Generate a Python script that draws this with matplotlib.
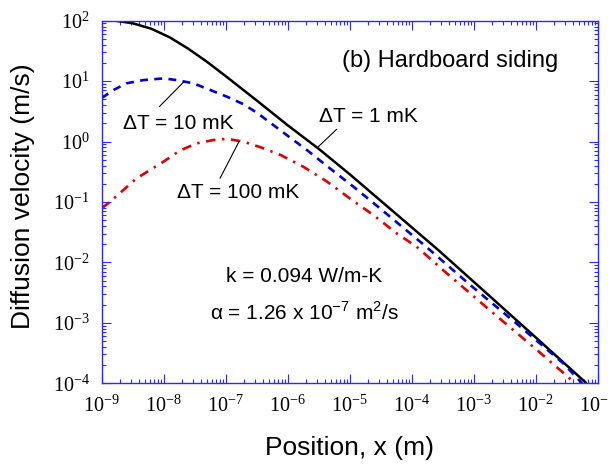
import matplotlib
matplotlib.use("Agg")
import matplotlib.pyplot as plt
from matplotlib.ticker import LogLocator, NullFormatter

plt.rcParams['font.family'] = ['Liberation Sans', 'DejaVu Sans']

# ---- data ----
x_1mK = [1.64e-9, 3.16e-9, 6.31e-9, 1.26e-8, 2.51e-8, 5.01e-8, 1.0e-7, 3.16e-7,
         1.0e-6, 3.16e-6, 1.0e-5, 3.09e-5, 2.69e-4, 1.0e-3, 1.0e-2, 6.61e-2]
v_1mK = [100, 90.6, 73.6, 52.8, 34.2, 20.8, 12.1, 4.79,
         1.86, 0.759, 0.288, 0.107, 0.0160, 4.79e-3, 5.75e-4, 1.0e-4]

x_10mK = [1.0e-9, 1.55e-9, 2.51e-9, 4.68e-9, 1.0e-8, 1.62e-8, 3.02e-8, 5.62e-8,
          1.05e-7, 1.91e-7, 3.16e-7, 8.51e-7, 2.04e-6, 4.79e-6, 1.15e-5, 2.72e-5,
          6.46e-5, 1.62e-4, 8.71e-4, 4.90e-3, 2.79e-2, 5.62e-2]
v_10mK = [5.25, 7.13, 9.20, 10.4, 11.1, 10.4, 9.20, 7.13,
          5.52, 4.17, 3.02, 1.41, 0.724, 0.361, 0.179, 0.0871,
          0.0417, 0.0191, 4.27e-3, 9.77e-4, 2.14e-4, 1.0e-4]

x_100mK = [1.0e-9, 1.36e-9, 2.24e-9, 3.63e-9, 6.03e-9, 1.0e-8, 1.82e-8, 3.39e-8,
           6.31e-8, 1.05e-7, 1.91e-7, 3.55e-7, 7.59e-7, 1.78e-6, 4.27e-6, 1.0e-5,
           2.40e-5, 5.75e-5, 1.20e-4, 3.24e-4, 1.82e-3, 1.05e-2, 4.37e-2]
v_100mK = [0.0785, 0.101, 0.158, 0.245, 0.339, 0.468, 0.708, 0.933,
           1.06, 1.11, 1.0, 0.813, 0.603, 0.384, 0.219, 0.115,
           0.0610, 0.0302, 0.0182, 7.41e-3, 1.62e-3, 3.55e-4, 1.0e-4]

xlim = (1e-9, 1e-1)
ylim = (1e-4, 1e2)

# ---- figure ----
fig = plt.figure(figsize=(6.08, 4.65), dpi=100)
ax = fig.add_axes([0.1673, 0.1757, 0.8157, 0.7798])

ax.plot(x_1mK, v_1mK, color='black', lw=1.8, solid_capstyle='butt',
        solid_joinstyle='round')
ax.plot(x_10mK, v_10mK, color='#0000d8', lw=1.9, dashes=(3.0, 2.4))
ax.plot(x_100mK, v_100mK, color='#e00000', lw=1.9, dashes=(3.6, 2.5, 0.9, 2.5))

ax.set_xscale('log')
ax.set_yscale('log')
ax.set_xlim(*xlim)
ax.set_ylim(*ylim)

spine_col = '#2a2aff'
for s in ax.spines.values():
    s.set_color(spine_col)
    s.set_linewidth(1.0)

for axis in (ax.xaxis, ax.yaxis):
    axis.set_major_locator(LogLocator(base=10, numticks=20))
    axis.set_minor_locator(LogLocator(base=10, subs=range(2, 10), numticks=20))
    axis.set_minor_formatter(NullFormatter())

ax.tick_params(which='both', direction='in', top=True, right=True,
               color=spine_col, width=0.8)
ax.tick_params(which='major', length=6.5, pad=8.5, labelsize=14.5,
               labelfontfamily='Liberation Serif', labelcolor='black')
ax.tick_params(which='minor', length=3.2)

# axis labels
fig.text(349.5 / 608, 1 - 455 / 465, 'Position, x (m)', fontsize=19,
         ha='center', va='baseline')
fig.text(23 / 608, 1 - 196 / 465, 'Diffusion velocity (m/s)', fontsize=19,
         rotation=90, ha='center', va='center')

# annotations
ax.text(0.702, 0.873, '(b) Hardboard siding', transform=ax.transAxes,
        fontsize=17, ha='center', va='baseline')
ax.text(0.438, 0.721, '\u0394T = 1 mK', transform=ax.transAxes,
        fontsize=15, ha='left', va='baseline')
ax.text(0.0423, 0.700, '\u0394T = 10 mK', transform=ax.transAxes,
        fontsize=15, ha='left', va='baseline')
ax.text(0.151, 0.510, '\u0394T = 100 mK', transform=ax.transAxes,
        fontsize=15, ha='left', va='baseline')
ax.text(0.408, 0.278, 'k = 0.094 W/m-K', transform=ax.transAxes,
        fontsize=15, ha='center', va='baseline')
ax.text(0.408, 0.1746,
        '\u03b1 = 1.26 x 10$^{\\mathdefault{-7}}$ m$^{\\mathdefault{2}}$/s',
        transform=ax.transAxes, fontsize=15, ha='center', va='baseline')

# leader lines (start near label -> point on curve)
leaders = [((10**-5.21, 10**0.203), (10**-5.506, 10**-0.085)),
           ((10**-8.071, 10**0.577), (10**-7.673, 10**0.99)),
           ((10**-7.092, 10**-0.608), (10**-6.786, 10**-0.002))]
for start, tip in leaders:
    ax.annotate('', xy=tip, xytext=start,
                arrowprops=dict(arrowstyle='-', lw=0.8, color='black',
                                shrinkA=0, shrinkB=0))

fig.savefig('out.png', dpi=100)
